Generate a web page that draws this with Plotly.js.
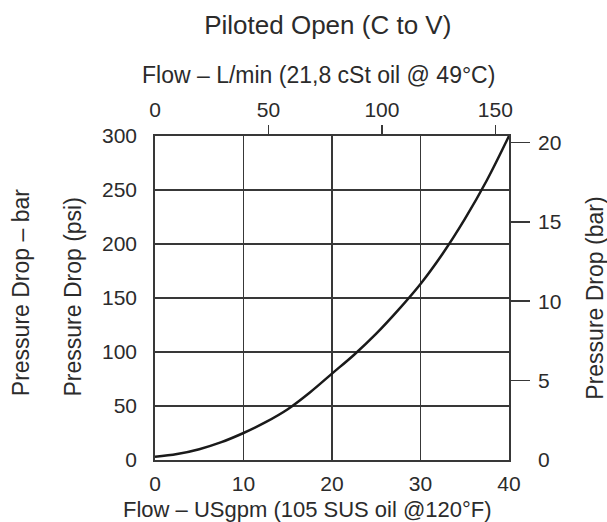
<!DOCTYPE html>
<html>
<head>
<meta charset="utf-8">
<script src="https://cdn.plot.ly/plotly-3.0.1.min.js"></script>
<style>html,body{margin:0;padding:0;background:#fff;}#chart{width:607px;height:522px;}</style>
</head>
<body>
<div id="chart"></div>
<script>
// Flow in US gpm and pressure drop in psi
var flowGpm = [0, 2.5, 5, 7.5, 10, 12.5, 15, 17.5, 20, 22.5, 25, 27.5, 30, 32.5, 35, 37.5, 40];
var dropPsi = [3, 5.5, 10, 16.5, 25, 35, 47, 62.5, 80, 97.5, 117, 139, 163, 191, 223, 259, 300];

var bottomTicks = [0, 10, 20, 30, 40];
var leftTicks = [0, 50, 100, 150, 200, 250, 300];
var topTicks = [0, 50, 100, 150];
var rightTicks = [0, 5, 10, 15, 20];

var LPM_PER_GPM = 3.785;
var PSI_PER_BAR = 14.504;

var chartTitle = 'Piloted Open (C to V)';
var bottomTitle = 'Flow – USgpm (105 SUS oil @120°F)';
var topTitle = 'Flow – L/min (21,8 cSt oil @ 49°C)';
var leftTitle = 'Pressure Drop (psi)';
var leftTitle2 = 'Pressure Drop – bar';
var rightTitle = 'Pressure Drop (bar)';

var FONT = 'Liberation Sans, Arial, sans-serif';
var INK = '#2b2b2b';
var tickFont = {family: FONT, size: 21, color: INK};
var titleFont = {family: FONT, size: 23, color: INK};

var flowLpm = flowGpm.map(function (g) { return g * LPM_PER_GPM; });
var dropBar = dropPsi.map(function (p) { return p / PSI_PER_BAR; });

var trace = {
  x: flowGpm, y: dropPsi, type: 'scatter', mode: 'lines',
  line: {color: '#1a1a1a', width: 2.5, shape: 'spline', smoothing: 1},
  hoverinfo: 'x+y', showlegend: false
};
// the same curve in metric units, kept invisible, so the top and right axes are drawn
function ghost(x, y, xa, ya) {
  return {x: x, y: y, xaxis: xa, yaxis: ya, type: 'scatter', mode: 'lines',
          line: {width: 0, color: 'rgba(0,0,0,0)'}, opacity: 0, hoverinfo: 'skip', showlegend: false};
}
var traces = [trace,
  ghost(flowLpm, dropPsi, 'x2', 'y'),
  ghost(flowLpm, dropPsi, 'x3', 'y'),
  ghost(flowGpm, dropBar, 'x', 'y2'),
  ghost(flowGpm, dropBar, 'x', 'y3')];

var GRID = '#383838';
var layout = {
  width: 607, height: 522,
  margin: {l: 155, r: 98, t: 136, b: 62, pad: 0},
  paper_bgcolor: '#fff', plot_bgcolor: '#fff',
  showlegend: false,
  title: {text: chartTitle, font: {family: FONT, size: 26, color: INK},
          x: 0.54, xref: 'container', xanchor: 'center', y: 0.952, yref: 'container', yanchor: 'middle'},
  xaxis: {range: [0, 40], tickvals: bottomTicks, showgrid: true, gridcolor: GRID, gridwidth: 1.5,
          zeroline: false, showline: true, mirror: true, linecolor: GRID, linewidth: 1.8,
          ticks: '', tickfont: tickFont, ticklabelstandoff: 4, fixedrange: true},
  yaxis: {range: [0, 300], tickvals: leftTicks, showgrid: true, gridcolor: GRID, gridwidth: 1.5,
          zeroline: false, showline: true, mirror: true, linecolor: GRID, linewidth: 1.8,
          ticks: '', tickfont: tickFont, ticklabelstandoff: 12, fixedrange: true},
  xaxis2: {overlaying: 'x', side: 'top', anchor: 'y', range: [0, 156], tickvals: topTicks,
           showgrid: false, zeroline: false, showline: false, ticks: '', tickfont: tickFont,
           ticklabelstandoff: 14, fixedrange: true},
  xaxis3: {overlaying: 'x', side: 'top', anchor: 'y', range: [0, 156], tickvals: topTicks.slice(1),
           showgrid: false, zeroline: false, showline: false, ticks: 'outside', ticklen: 10,
           tickwidth: 1.5, tickcolor: GRID, showticklabels: false, fixedrange: true},
  yaxis2: {overlaying: 'y', side: 'right', anchor: 'x', range: [0, 20.4], tickvals: rightTicks,
           showgrid: false, zeroline: false, showline: false, ticks: '', tickfont: tickFont,
           ticklabelstandoff: 28, fixedrange: true},
  yaxis3: {overlaying: 'y', side: 'right', anchor: 'x', range: [0, 20.4], tickvals: rightTicks.slice(1),
           showgrid: false, zeroline: false, showline: false, ticks: 'outside', ticklen: 20,
           tickwidth: 1.5, tickcolor: GRID, showticklabels: false, fixedrange: true},
  annotations: [
    {text: topTitle, xref: 'paper', yref: 'paper', x: 0.4605, y: 1.188, xanchor: 'center', yanchor: 'middle',
     showarrow: false, font: titleFont},
    {text: bottomTitle, xref: 'paper', yref: 'paper', x: 0.432, y: -0.153, xanchor: 'center', yanchor: 'middle',
     showarrow: false, font: {family: FONT, size: 22, color: INK}},
    {text: leftTitle, xref: 'paper', yref: 'paper', x: -0.2316, y: 0.5015, xanchor: 'center', yanchor: 'middle',
     textangle: -90, showarrow: false, font: titleFont},
    {text: leftTitle2, xref: 'paper', yref: 'paper', x: -0.3766, y: 0.517, xanchor: 'center', yanchor: 'middle',
     textangle: -90, showarrow: false, font: titleFont},
    {text: rightTitle, xref: 'paper', yref: 'paper', x: 1.243, y: 0.498, xanchor: 'center', yanchor: 'middle',
     textangle: -90, showarrow: false, font: titleFont}
  ]
};

Plotly.newPlot('chart', traces, layout, {staticPlot: true, displayModeBar: false});
</script>
</body>
</html>
